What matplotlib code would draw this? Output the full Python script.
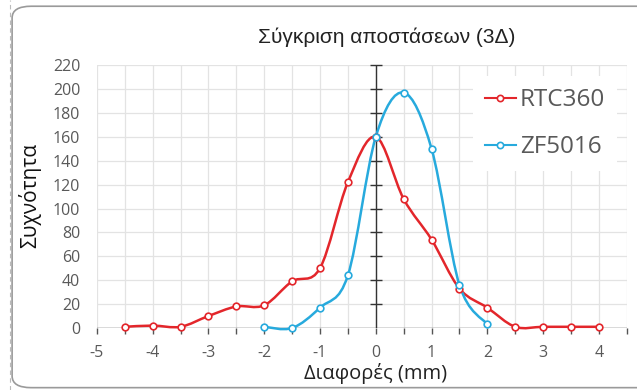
import numpy as np
import matplotlib
matplotlib.use("Agg")
import matplotlib.pyplot as plt
from matplotlib.path import Path
from matplotlib.patches import PathPatch, FancyBboxPatch
from matplotlib.lines import Line2D

plt.rcParams['font.family'] = ['Open Sans', 'DejaVu Sans']
plt.rcParams['axes.unicode_minus'] = False

# data
rtc_x = [-4.5, -4, -3.5, -3, -2.5, -2, -1.5, -1, -0.5, 0, 0.5, 1, 1.5, 2, 2.5, 3, 3.5, 4]
rtc_y = [1, 2, 1, 10, 18, 19, 39, 50, 122, 160, 108, 74, 33, 17, 1, 1, 1, 1]
zf_x = [-2, -1.5, -1, -0.5, 0, 0.5, 1, 1.5, 2]
zf_y = [1, 0, 17, 44, 160, 197, 150, 36, 3]

red = '#e3262b'
blue = '#27aadd'
gray = '#595959'


def smooth_path(xs, ys):
    # catmull-rom style bezier like excel's "smoothed line"
    p = np.column_stack([xs, ys]).astype(float)
    verts = [p[0]]
    codes = [Path.MOVETO]
    n = len(p)
    for i in range(n - 1):
        p0 = p[i - 1] if i > 0 else p[i]
        p1, p2 = p[i], p[i + 1]
        p3 = p[i + 2] if i + 2 < n else p[i + 1]
        c1 = p1 + (p2 - p0) / 6
        c2 = p2 - (p3 - p1) / 6
        verts += [c1, c2, p2]
        codes += [Path.CURVE4] * 3
    return Path(verts, codes)


fig = plt.figure(figsize=(6.37, 3.9), dpi=100)
box = FancyBboxPatch((0.019, 0.006), 1.05, 0.978, boxstyle='round,pad=0,rounding_size=0.03',
                     transform=fig.transFigure, fc='none', ec='#9a9a9a', lw=1.2, zorder=-1)
fig.patches.append(box)
fig.lines.append(Line2D([0.016, 0.016], [0.0, 1.0], transform=fig.transFigure,
                        color='#bbbbbb', lw=0.8, ls=(0, (4, 3)), zorder=-1))

ax = fig.add_axes([0.152, 0.159, 0.832, 0.674])
ax.patch.set_alpha(0)
ax.set_xlim(-5, 4.5)
ax.set_ylim(0, 220)
for s in ax.spines.values():
    s.set_visible(False)

ax.set_xticks(np.arange(-5, 5, 1))
ax.set_xticks(np.arange(-5, 4.6, 0.5), minor=True)
ax.set_yticks(np.arange(0, 221, 20))
ax.tick_params(axis='both', which='both', length=0, labelsize=11.5, labelcolor=gray)
ax.tick_params(axis='x', pad=12)
ax.tick_params(axis='y', pad=12)
ax.grid(True, which='both', color='#e3e3e3', lw=0.9)
ax.set_axisbelow(True)

# axes crossing at zero
ax.axhline(0, color='#555555', lw=1.0, zorder=2)
ax.axvline(0, color='#333333', lw=1.0, zorder=2)
xt = np.arange(-5, 4.6, 0.5)
ax.plot(xt, np.zeros_like(xt), ls='none', marker=3, ms=4, color='#555555', mew=1.0, clip_on=False, zorder=2)
yt = np.arange(20, 221, 20)
ax.plot(np.zeros_like(yt), yt, ls='none', marker='_', ms=8, color='#333333', mew=1.0, clip_on=False, zorder=2)

for xs, ys, c in [(rtc_x, rtc_y, red), (zf_x, zf_y, blue)]:
    ax.add_patch(PathPatch(smooth_path(xs, ys), fc='none', ec=c, lw=1.8, zorder=3, clip_on=False))
    ax.plot(xs, ys, ls='none', marker='o', ms=4.8, mfc='white', mec=c, mew=1.2, zorder=4, clip_on=False)

handles = [Line2D([], [], color=red, lw=1.5, marker='o', ms=4.5, mfc='white', mew=1.2),
           Line2D([], [], color=blue, lw=1.5, marker='o', ms=4.5, mfc='white', mew=1.2)]
leg = ax.legend(handles, ['RTC360', 'ZF5016'], loc='upper right', bbox_to_anchor=(1.005, 1.005),
                fontsize=17.5, frameon=True, framealpha=1, edgecolor='none', facecolor='white',
                handlelength=1.3, handletextpad=0.15, labelspacing=0.95, borderpad=0.5, fancybox=False)
for t in leg.get_texts():
    t.set_color(gray)
leg.set_zorder(5)

fig.text(0.607, 0.905, 'Σύγκριση αποστάσεων (3Δ)', ha='center', va='center', fontsize=15,
         color='#222222', family=['Liberation Sans', 'DejaVu Sans'])
fig.text(0.59, 0.043, 'Διαφορές (mm)', ha='center', va='center', fontsize=14.5, color='#222222')
fig.text(0.047, 0.5, 'Συχνότητα', ha='center', va='center', rotation=90, fontsize=15, color='#111111')

fig.savefig('out.png', dpi=100)
